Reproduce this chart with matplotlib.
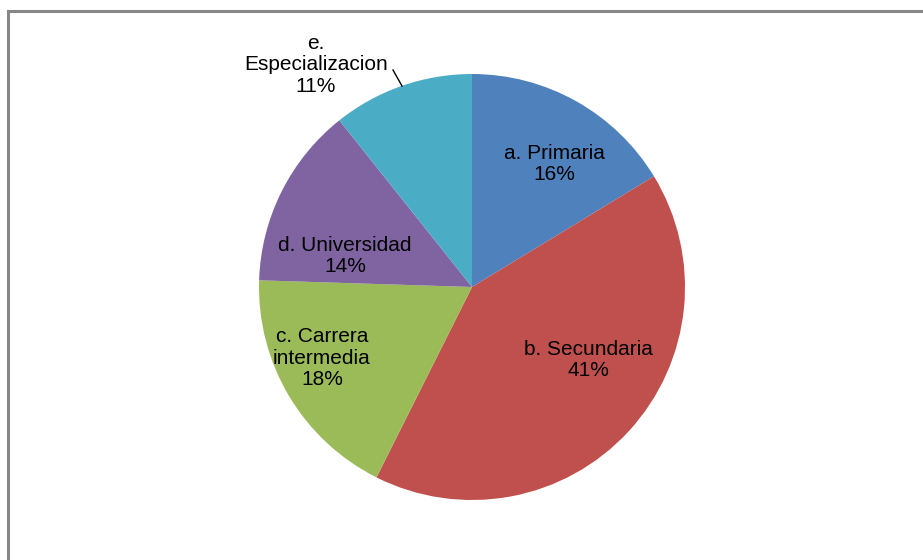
import matplotlib
matplotlib.use("Agg")
import matplotlib.pyplot as plt

# Data
categories = ["a. Primaria", "b. Secundaria", "c. Carrera\nintermedia",
              "d. Universidad", "e.\nEspecializacion"]
shares = [16.3, 41.1, 18.1, 13.8, 10.7]
share_labels = ["16%", "41%", "18%", "14%", "11%"]
colors = ["#4F81BD", "#C0504D", "#9BBB59", "#8064A2", "#4BACC6"]

plt.rcParams['font.family'] = ['Liberation Sans', 'DejaVu Sans']

W, H = 923, 560
fig = plt.figure(figsize=(W / 100, H / 100), dpi=100)
ax = fig.add_axes([0, 0, 1, 1])

cx, cy, r = 472, H - 287, 213
ax.pie(shares, colors=colors, startangle=90, counterclock=False,
       center=(cx, cy), radius=r, frame=True,
       wedgeprops=dict(linewidth=0))
ax.set_xlim(0, W)
ax.set_ylim(0, H)
ax.axis('off')

# label positions (pixels from top-left)
label_pos = [(554, 164), (588, 360), (322, 358), (345, 256), (316, 65)]
for name, txt, (x, y) in zip(categories, share_labels, label_pos):
    ax.text(x, H - y, "%s\n%s" % (name, txt), ha="center", va="center",
            fontsize=15, linespacing=1.15, color="black")

# leader line for the small slice
ax.plot([393, 402], [H - 70, H - 86], color="black", linewidth=1)

# chart area border (top and left visible)
ax.plot([7.5, W], [H - 10.5, H - 10.5], color="#878787", linewidth=2.2)
ax.plot([7.5, 7.5], [H - 10.5, 0], color="#878787", linewidth=2.2)

fig.savefig("out.png", dpi=100)
